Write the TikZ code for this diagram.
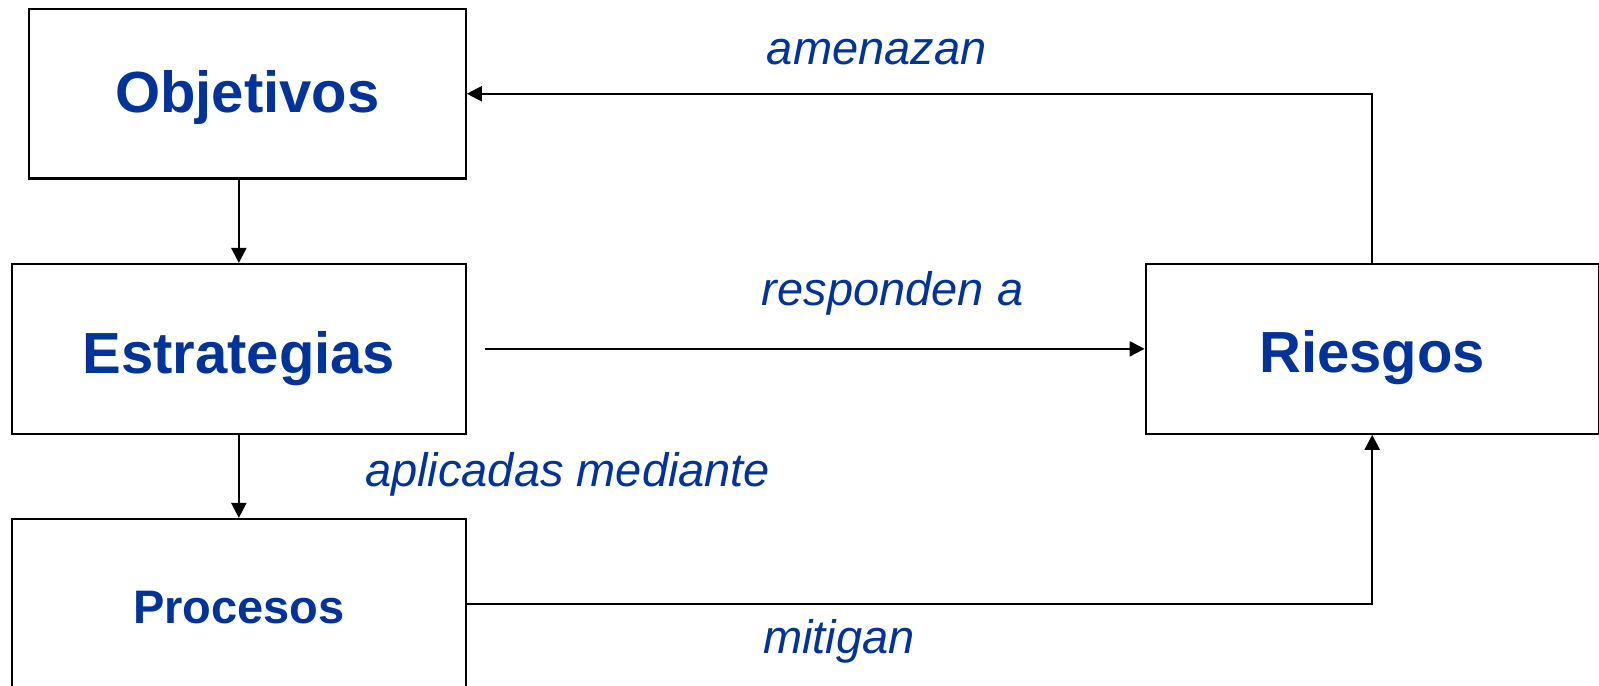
\documentclass[tikz,border=0pt]{standalone}
\usepackage{fontspec}
\setmainfont{Liberation Sans}
\usetikzlibrary{arrows.meta}
\definecolor{txtblue}{RGB}{0,51,153}
\tikzset{
  box/.style={draw=black, line width=2.2bp, inner sep=0pt, fill=white,
    text=txtblue, font=\fontsize{58bp}{60bp}\selectfont\bfseries, text depth=0pt},
  lbl/.style={anchor=base west, inner sep=0pt, text=txtblue,
    font=\fontsize{47bp}{50bp}\selectfont\itshape},
  conn/.style={draw=black, line width=2.2bp, -{Triangle[length=15bp,width=15bp]}},
  plain/.style={draw=black, line width=2.2bp}
}
\begin{document}
\begin{tikzpicture}[x=1bp,y=-1bp]
\useasboundingbox (0,0) rectangle (1599,686);
\node[box, minimum width=436.7bp, minimum height=169.5bp, text height=36.6bp] (obj) at (247.35,93.75) {Objetivos};
\node[box, minimum width=453.7bp, minimum height=169.7bp, text height=49.2bp] (est) at (238.85,348.85) {Estrategias};
\node[box, minimum width=453.7bp, minimum height=170bp, text height=39.4bp,
      font=\fontsize{47bp}{50bp}\selectfont\bfseries] (proc) at (238.85,604) {Procesos};
\node[box, minimum width=453bp, minimum height=169.7bp, text height=48.2bp] (ries) at (1372.2,348.85) {Riesgos};

\draw[conn] (est.north |- obj.south) -- (est.north);
\draw[conn] (est.south) -- (proc.north);
\draw[conn] ([xshift=18bp]est.east) -- (ries.west);
\draw[conn] (ries.north) |- (obj.east);
\draw[conn] (proc.east) -| (ries.south);

\node[lbl] (l1) at (766.7,65) {amenazan};
\node[lbl] (l2) at (761.7,305) {responden a};
\node[lbl] (l3) at (365,486.7) {aplicadas mediante};
\node[lbl] (l4) at (763,653) {mitigan};
\end{tikzpicture}
\end{document}
